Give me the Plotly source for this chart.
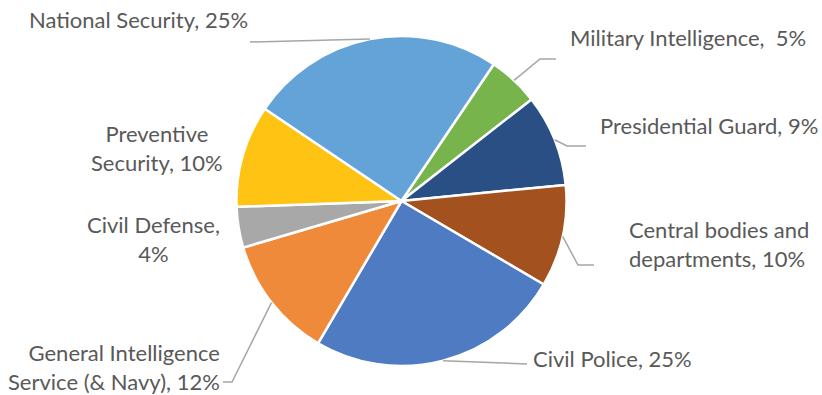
import math
import plotly.graph_objects as go

# Staff share by security agency (percent)
agencies = [
    "Military Intelligence",
    "Presidential Guard",
    "Central bodies and departments",
    "Civil Police",
    "General Intelligence Service (& Navy)",
    "Civil Defense",
    "Preventive Security",
    "National Security",
]
shares = [5, 9, 10, 25, 12, 4, 10, 25]
label_texts = [
    "Military Intelligence,  5%",
    "Presidential Guard, 9%",
    "Central bodies and<br>departments, 10%",
    "Civil Police, 25%",
    "General Intelligence<br>Service (& Navy), 12%",
    "Civil Defense,<br>4%",
    "Preventive<br>Security, 10%",
    "National Security, 25%",
]
colors = ["#78B44C", "#2A4F84", "#A3521F", "#4F7BC2",
          "#F08A3B", "#A8A8A8", "#FFC413", "#64A3D8"]

W, H = 822, 395
START_ANGLE = 34  # degrees clockwise from 12 o'clock
CX, CY, R = 401.5, 201.0, 165.0  # pie centre / radius in pixels


def px(x):
    return x / W


def py(y):
    return 1 - y / H


# label placement: (x, y, xanchor, leader elbow points in pixels or None)
placements = [
    (568, 38, "left", [(540, 59), (556, 59)]),
    (598, 125, "left", [(567, 146), (586, 146)]),
    (627, 244, "left", [(578, 265), (594, 265)]),
    (531, 358, "left", [(527, 364)]),
    (222, 367, "right", [(232, 382), (223, 382)]),
    (153, 239, "center", None),
    (157, 148, "center", None),
    (250, 19, "right", [(250, 42)]),
]

fig = go.Figure(go.Pie(
    labels=agencies,
    values=shares,
    sort=False,
    direction="clockwise",
    rotation=START_ANGLE,
    marker=dict(colors=colors, line=dict(color="white", width=2.5)),
    textinfo="none",
    hoverinfo="label+percent",
    showlegend=False,
    domain=dict(x=[px(CX - R), px(CX + R)], y=[py(CY + R), py(CY - R)]),
))

total = sum(shares)
cum = 0.0
shapes = []
annotations = []
for val, txt, (lx, ly, anchor, elbow) in zip(shares, label_texts, placements):
    mid = START_ANGLE + (cum + val / 2) / total * 360
    cum += val
    a = math.radians(mid)
    ex, ey = CX + R * math.sin(a), CY - R * math.cos(a)
    if elbow:
        pts = [(ex, ey)] + elbow
        path = "M " + " L ".join(f"{px(x):.5f},{py(y):.5f}" for x, y in pts)
        shapes.append(dict(type="path", path=path, xref="paper", yref="paper",
                           line=dict(color="#A6A6A6", width=1.5)))
    annotations.append(dict(
        x=px(lx), y=py(ly), xref="paper", yref="paper",
        text=txt, showarrow=False, xanchor=anchor, yanchor="middle",
        align=anchor if anchor != "center" else "center",
        font=dict(family="Lato", size=22, color="#595959"),
    ))

fig.update_layout(
    width=W, height=H,
    margin=dict(l=0, r=0, t=0, b=0),
    paper_bgcolor="white",
    plot_bgcolor="white",
    shapes=shapes,
    annotations=annotations,
)

fig.write_html("out.html")
